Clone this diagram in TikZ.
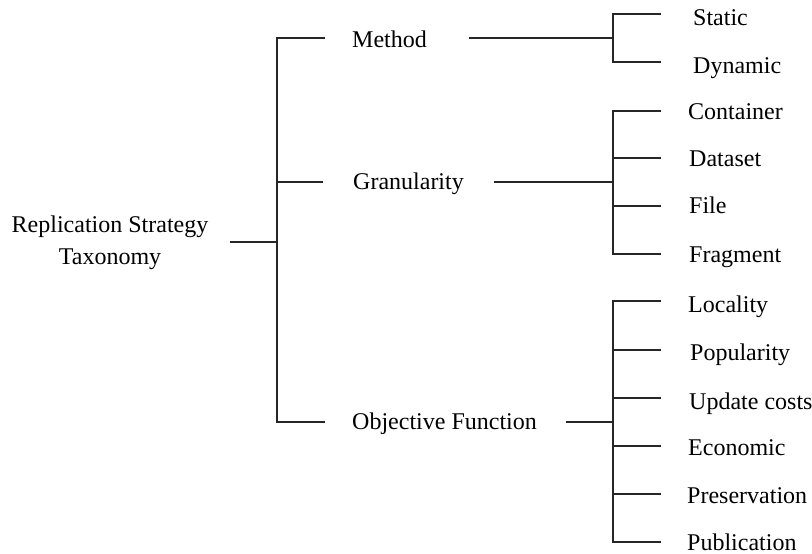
\documentclass[tikz,border=0pt]{standalone}
\usepackage{fontspec}
\setmainfont{Liberation Serif}
\usetikzlibrary{positioning}
\begin{document}
\begin{tikzpicture}[x=1pt,y=-1pt]
\tikzstyle{every node}+=[inner sep=0pt,font=\fontsize{24}{32}\selectfont]
\tikzstyle{leaf}=[anchor=base west]
\tikzstyle{branch}=[draw=black!85,line width=1.1pt]
\useasboundingbox (0,0) rectangle (812,554);
% texts
\node[align=center] (root) at (110,243) {Replication Strategy\\Taxonomy};
\node[leaf] (method) at (352,47) {Method};
\node[leaf] (gran) at (353,189) {Granularity};
\node[leaf] (obj) at (352,429) {Objective Function};
\node[leaf] (static) at (693,25) {Static};
\node[leaf] (dynamic) at (693,73) {Dynamic};
\node[leaf] (container) at (688,119) {Container};
\node[leaf] (dataset) at (689,166) {Dataset};
\node[leaf] (file) at (689,213) {File};
\node[leaf] (fragment) at (689,262) {Fragment};
\node[leaf] (locality) at (688,312) {Locality};
\node[leaf] (popularity) at (690,360) {Popularity};
\node[leaf] (update) at (689,409) {Update costs};
\node[leaf] (economic) at (688,455) {Economic};
\node[leaf] (preserv) at (687,503) {Preservation};
\node[leaf] (public) at (687,550) {Publication};
% line ends
\coordinate (rootout) at (230,242);
\coordinate (rootbr) at (277,242);
\coordinate (methodin) at (325,38);
\coordinate (granin) at (323,182);
\coordinate (objin) at (325,422);
\coordinate (methodout) at (469,38);
\coordinate (methodbr) at (613,38);
\coordinate (granout) at (494,182);
\coordinate (granbr) at (613,182);
\coordinate (objout) at (566,422);
\coordinate (objbr) at (613,422);
\coordinate (staticin) at (661,14);
\coordinate (dynamicin) at (661,62);
\coordinate (containerin) at (661,111);
\coordinate (datasetin) at (661,158);
\coordinate (filein) at (661,206);
\coordinate (fragmentin) at (661,254);
\coordinate (localityin) at (661,301);
\coordinate (popularityin) at (661,350);
\coordinate (updatein) at (661,398);
\coordinate (economicin) at (661,446);
\coordinate (preservin) at (661,494);
\coordinate (publicin) at (661,542);
% root bracket
\draw[branch] (rootout) -- (rootbr);
\draw[branch] (methodin) -| (rootbr) |- (objin);
\draw[branch] (granin) -- (granin -| rootbr);
% method
\draw[branch] (methodout) -- (methodbr);
\draw[branch] (staticin) -| (methodbr) |- (dynamicin);
% granularity
\draw[branch] (granout) -- (granbr);
\draw[branch] (containerin) -| (granbr) |- (fragmentin);
\draw[branch] (datasetin) -- (datasetin -| granbr);
\draw[branch] (filein) -- (filein -| granbr);
% objective function
\draw[branch] (objout) -- (objbr);
\draw[branch] (localityin) -| (objbr) |- (publicin);
\draw[branch] (popularityin) -- (popularityin -| objbr);
\draw[branch] (updatein) -- (updatein -| objbr);
\draw[branch] (economicin) -- (economicin -| objbr);
\draw[branch] (preservin) -- (preservin -| objbr);
\end{tikzpicture}
\end{document}
